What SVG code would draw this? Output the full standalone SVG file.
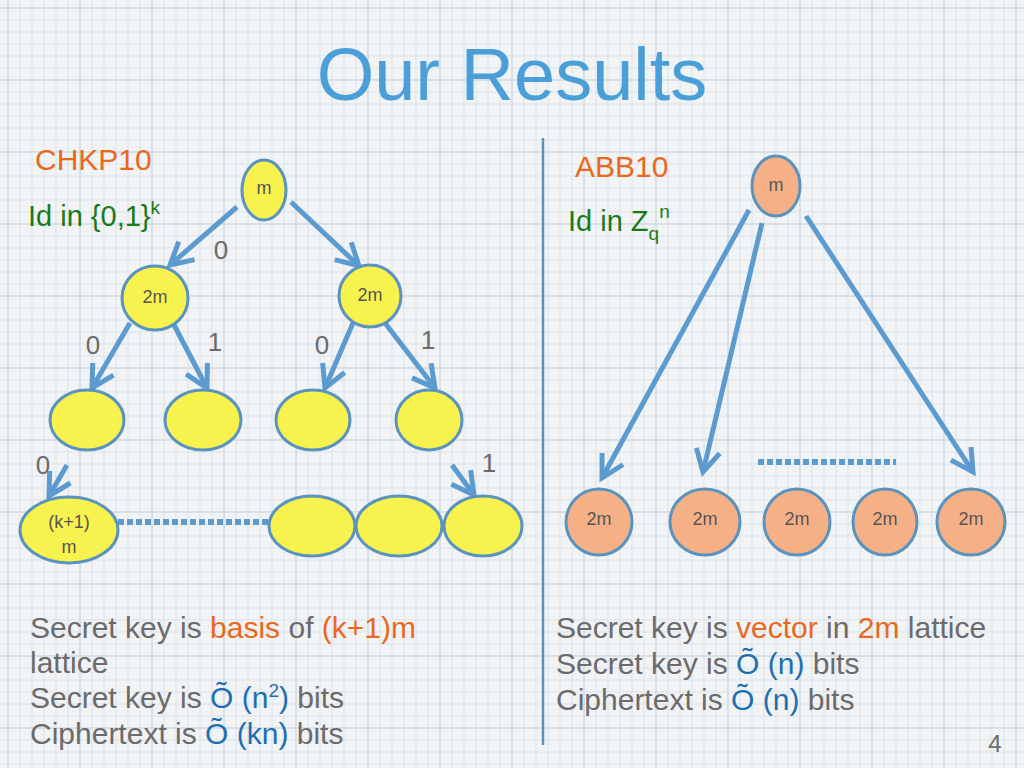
<svg xmlns="http://www.w3.org/2000/svg" width="1024" height="768" viewBox="0 0 1024 768">
<defs>
<pattern id="grid" width="12" height="12" patternUnits="userSpaceOnUse">
<rect width="12" height="12" fill="#F1F3F5"/>
<path d="M 8 0 V 12 M 0 8 H 12" stroke="#DCE4EB" stroke-width="1"/>
</pattern>
<pattern id="grid2" width="72" height="72" patternUnits="userSpaceOnUse">
<path d="M 8 0 V 72 M 0 8 H 72" stroke="#D2DDE6" stroke-width="1.5"/>
</pattern>
<marker id="arr" markerUnits="userSpaceOnUse" markerWidth="40" markerHeight="40" refX="0" refY="0" orient="auto" overflow="visible">
<path d="M -22 -12 L 0 0 L -22 12" fill="none" stroke="#5B9BD0" stroke-width="5" stroke-linecap="butt" stroke-linejoin="miter"/>
</marker>
<style>
text{font-family:"Liberation Sans",Arial,sans-serif}
.y{fill:#F8F24E;stroke:#5B93BF;stroke-width:3}
.o{fill:#F5B085;stroke:#5B93BF;stroke-width:3}
.nl{font-size:18px;fill:#555;text-anchor:middle}
.el{font-size:26px;fill:#6b6b6b;text-anchor:middle}
.c{stroke:#5B9BD0;stroke-width:5;fill:none;marker-end:url(#arr)}
.d{stroke:#5B9BD0;stroke-width:6;stroke-dasharray:6 3;fill:none}
.b{font-size:30px;fill:#6b6b6b}
.or{fill:#E8691E}
.bl{fill:#1F6FB0}
</style>
</defs>
<rect width="1024" height="768" fill="url(#grid)"/>
<rect width="1024" height="768" fill="url(#grid2)"/>

<text x="512" y="100" font-size="74" fill="#4A9FD8" text-anchor="middle">Our Results</text>

<text x="35" y="170" font-size="30" fill="#E8691E">CHKP10</text>
<text x="28" y="226" font-size="29" fill="#1A7A1A">Id in {0,1}<tspan font-size="19" dy="-12">k</tspan></text>

<text x="575" y="177" font-size="30" fill="#E8691E">ABB10</text>
<text x="568" y="231" font-size="29" fill="#1A7A1A">Id in Z<tspan font-size="19" dy="9">q</tspan><tspan font-size="19" dy="-22">n</tspan></text>

<line x1="543" y1="138" x2="543" y2="745" stroke="#5B93BF" stroke-width="2.5"/>

<g id="connectors">
<line class="c" x1="237" y1="207" x2="170" y2="265"/>
<line class="c" x1="291" y1="202" x2="359" y2="266"/>
<line class="c" x1="130" y1="323" x2="92" y2="388"/>
<line class="c" x1="173" y1="323" x2="207" y2="388"/>
<line class="c" x1="353" y1="323" x2="325" y2="388"/>
<line class="c" x1="385" y1="323" x2="435" y2="388"/>
<line class="c" x1="67" y1="465" x2="49" y2="496"/>
<line class="c" x1="452" y1="465" x2="474" y2="495"/>
<line class="d" x1="118" y1="522" x2="270" y2="522"/>
<line class="c" x1="749" y1="210" x2="602" y2="478"/>
<line class="c" x1="762" y1="223" x2="703" y2="472"/>
<line class="c" x1="806" y1="216" x2="973" y2="472"/>
<line class="d" x1="758" y1="462" x2="896" y2="462"/>
<text class="el" x="221" y="259">0</text>
<text class="el" x="93" y="354">0</text>
<text class="el" x="215" y="351">1</text>
<text class="el" x="322" y="354">0</text>
<text class="el" x="428" y="349">1</text>
<text class="el" x="43" y="474">0</text>
<text class="el" x="489" y="472">1</text>
</g>

<g id="root"><ellipse class="y" cx="264" cy="190" rx="22" ry="30"/><text class="nl" x="264" y="194">m</text></g>
<g id="n2mL"><ellipse class="y" cx="155" cy="298" rx="33" ry="32"/><text class="nl" x="155" y="303">2m</text></g>
<g id="n2mR"><ellipse class="y" cx="370" cy="296" rx="31" ry="31"/><text class="nl" x="370" y="301">2m</text></g>
<g id="c1"><ellipse class="y" cx="87" cy="420" rx="37" ry="30"/></g>
<g id="c2"><ellipse class="y" cx="203" cy="420" rx="38" ry="30"/></g>
<g id="c3"><ellipse class="y" cx="313" cy="420" rx="37" ry="30"/></g>
<g id="c4"><ellipse class="y" cx="429" cy="420" rx="33" ry="30"/></g>
<g id="leafk"><ellipse class="y" cx="69" cy="530" rx="49" ry="33"/><text class="nl" x="69" y="528">(k+1)</text><text class="nl" x="69" y="553">m</text></g>
<g id="l1"><ellipse class="y" cx="312" cy="526" rx="43" ry="30"/></g>
<g id="l2"><ellipse class="y" cx="399" cy="526" rx="43" ry="30"/></g>
<g id="l3"><ellipse class="y" cx="483" cy="526" rx="39" ry="30"/></g>

<g id="aroot"><ellipse class="o" cx="776" cy="186" rx="24" ry="30"/><text class="nl" x="776" y="191">m</text></g>
<g id="b1"><ellipse class="o" cx="599" cy="522" rx="33" ry="33"/><text class="nl" x="599" y="525">2m</text></g>
<g id="b2"><ellipse class="o" cx="705" cy="522" rx="35" ry="33"/><text class="nl" x="705" y="525">2m</text></g>
<g id="b3"><ellipse class="o" cx="797" cy="522" rx="33" ry="33"/><text class="nl" x="797" y="525">2m</text></g>
<g id="b4"><ellipse class="o" cx="885" cy="522" rx="32" ry="33"/><text class="nl" x="885" y="525">2m</text></g>
<g id="b5"><ellipse class="o" cx="971" cy="522" rx="34" ry="33"/><text class="nl" x="971" y="525">2m</text></g>

<text class="b" x="30" y="638">Secret key is <tspan class="or">basis</tspan> of <tspan class="or">(k+1)m</tspan></text>
<text class="b" x="30" y="673">lattice</text>
<text class="b" x="30" y="708">Secret key is <tspan class="bl">Õ (n<tspan font-size="19" dy="-11">2</tspan><tspan dy="11">)</tspan></tspan> bits</text>
<text class="b" x="30" y="744">Ciphertext is <tspan class="bl">Õ (kn)</tspan> bits</text>

<text class="b" x="556" y="638">Secret key is <tspan class="or">vector</tspan> in <tspan class="or">2m</tspan> lattice</text>
<text class="b" x="556" y="674">Secret key is <tspan class="bl">Õ (n)</tspan> bits</text>
<text class="b" x="556" y="710">Ciphertext is <tspan class="bl">Õ (n)</tspan> bits</text>

<text x="995" y="752" font-size="24" fill="#6b6b6b" text-anchor="middle">4</text>
</svg>
